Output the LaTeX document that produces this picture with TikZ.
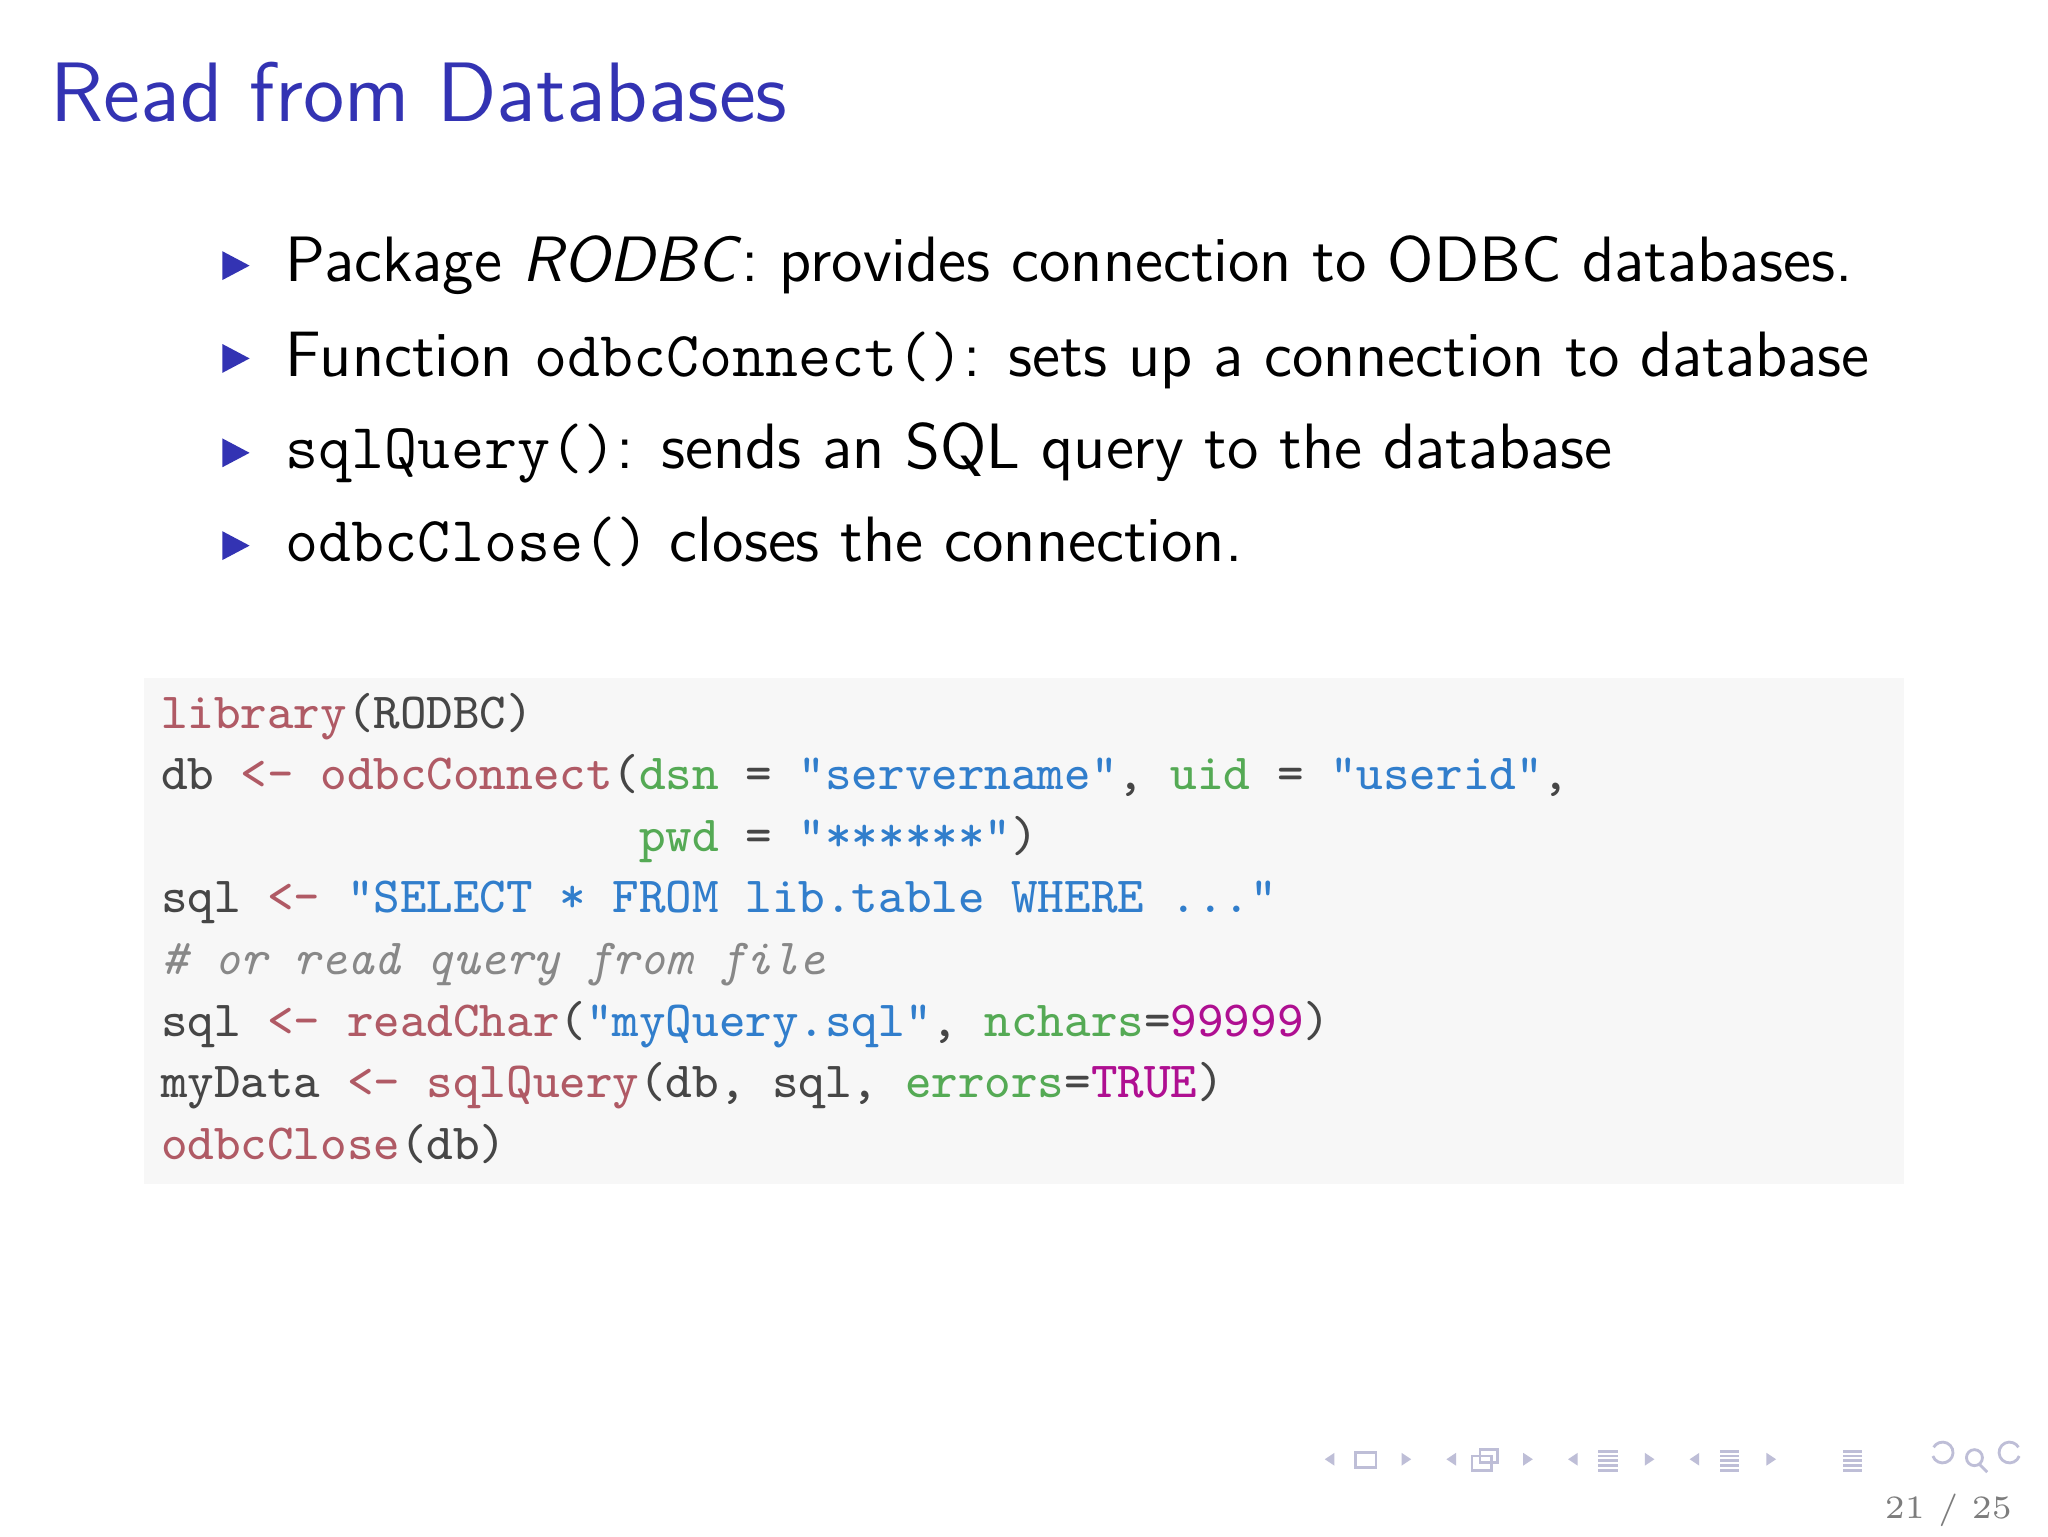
\documentclass[tikz,border=0pt]{standalone}
\usepackage{fontspec}
\definecolor{titleblue}{RGB}{51,51,179}
\definecolor{codebg}{RGB}{247,247,247}
\definecolor{kwd}{RGB}{176,90,101}
\definecolor{str}{RGB}{49,126,204}
\definecolor{kwc}{RGB}{85,170,85}
\definecolor{num}{RGB}{175,15,145}
\definecolor{com}{RGB}{136,136,136}
\definecolor{std}{RGB}{70,70,70}
\definecolor{nav}{RGB}{190,190,215}
\newcommand{\K}[1]{\textcolor{kwd}{#1}}
\newcommand{\Sg}[1]{\textcolor{str}{#1}}
\newcommand{\A}[1]{\textcolor{kwc}{#1}}
\newcommand{\N}[1]{\textcolor{num}{#1}}
\begin{document}
\begin{tikzpicture}[x=1cm,y=-1cm,
  bul/.style={anchor=base west,font=\sffamily\fontsize{11.4}{13}\selectfont,inner sep=0},
  code/.style={anchor=base west,font=\ttfamily\fontsize{9.0}{11}\selectfont,text=std,inner sep=0},
  tri/.style={fill=titleblue}]
\useasboundingbox (0,0) rectangle (12.8,9.6);
\fill[white] (0,0) rectangle (12.8,9.6);
\node[anchor=base west,inner sep=0,text=titleblue,font=\sffamily\fontsize{15}{18}\selectfont] (title) at (0.31,0.76) {Read from Databases};
\foreach \y/\n in {1.66/1,2.24/2,2.83/3,3.41/4}{
  \fill[tri] (1.39,\y-0.09) -- (1.56,\y) -- (1.39,\y+0.09) -- cycle;}
\node[bul] (b1) at (1.78,1.76) {Package \textit{RODBC}: provides connection to ODBC databases.};
\node[bul] (b2) at (1.78,2.35) {Function \texttt{odbcConnect()}: sets up a connection to database};
\node[bul] (b3) at (1.78,2.93) {\texttt{sqlQuery()}: sends an SQL query to the database};
\node[bul] (b4) at (1.78,3.51) {\texttt{odbcClose()} closes the connection.};
\fill[codebg] (0.9,4.24) rectangle (11.9,7.40);
\node[code] (c1) at (1.0,4.55) {\K{library}(RODBC)};
\node[code] (c2) at (1.0,4.935) {db \K{<-} \K{odbcConnect}(\A{dsn} = \Sg{"servername"}, \A{uid} = \Sg{"userid"},};
\node[code] (c3) at (1.0,5.32) {\hphantom{db <- odbcConnect(}\A{pwd} = \Sg{"******"})};
\node[code] (c4) at (1.0,5.705) {sql \K{<-} \Sg{"SELECT * FROM lib.table WHERE ..."}};
\node[code] (c5) at (1.0,6.09) {\textcolor{com}{\itshape \# or read query from file}};
\node[code] (c6) at (1.0,6.475) {sql \K{<-} \K{readChar}(\Sg{"myQuery.sql"}, \A{nchars}=\N{99999})};
\node[code] (c7) at (1.0,6.86) {myData \K{<-} \K{sqlQuery}(db, sql, \A{errors}=\N{TRUE})};
\node[code] (c8) at (1.0,7.245) {\K{odbcClose}(db)};
% navigation symbols
\begin{scope}[line width=0.5pt]
\foreach \x in {8.28,9.04,9.80,10.56}{\fill[nav] (\x,9.12) -- (\x+0.06,9.08) -- (\x+0.06,9.16) -- cycle;}
\foreach \x in {8.76,9.52,10.28,11.04}{\fill[nav] (\x+0.06,9.12) -- (\x,9.08) -- (\x,9.16) -- cycle;}
\draw[nav] (8.47,9.08) rectangle (8.60,9.17);
\draw[nav] (9.20,9.10) rectangle (9.32,9.19); \draw[nav] (9.25,9.06) rectangle (9.36,9.14);
\foreach \x in {9.99,10.75,11.52}{\foreach \d in {-0.05,-0.02,0.01,0.04,0.07}{\draw[nav] (\x,9.12+\d) -- (\x+0.12,9.12+\d);}}
\draw[nav] (12.08,9.10) arc (160:-150:0.065);
\draw[nav] (12.34,9.11) circle (0.05); \draw[nav] (12.37,9.15) -- (12.42,9.20);
\draw[nav] (12.62,9.10) arc (20:330:0.065);
\end{scope}
\node[anchor=base east,inner sep=0,text=std!70,font=\fontsize{5.8}{7}\selectfont] (pg) at (12.58,9.49) {21 / 25};
\end{tikzpicture}
\end{document}
